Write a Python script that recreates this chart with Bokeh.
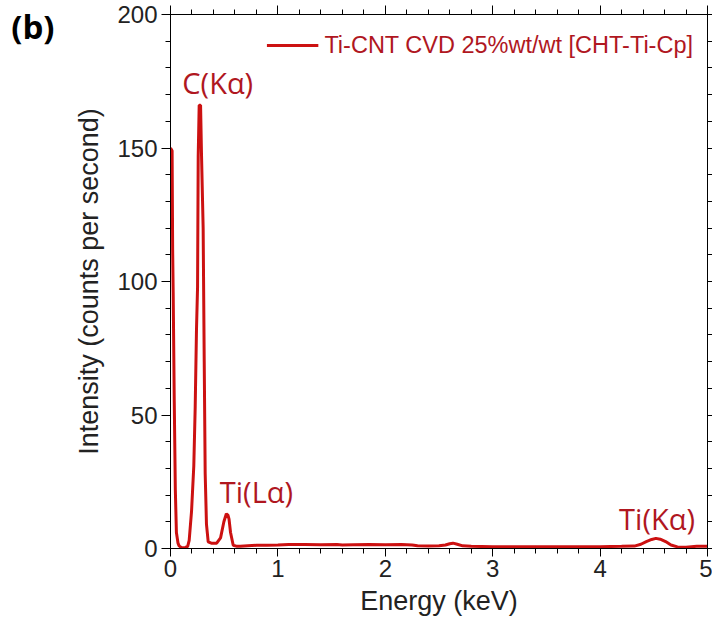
from bokeh.plotting import figure
from bokeh.models import Range1d, LinearAxis, Label, Legend, LegendItem, FixedTicker, CustomJSTickFormatter
from bokeh.embed import file_html
from bokeh.resources import INLINE

# Spectrum (keV, counts per second)
energy_kev = [0.00, 0.015, 0.02, 0.025, 0.035, 0.045, 0.055, 0.07, 0.08, 0.10, 0.12, 0.14, 0.16,
              0.174, 0.196, 0.217, 0.23, 0.242, 0.252, 0.258, 0.267, 0.28, 0.289, 0.304, 0.314,
              0.323, 0.335, 0.351, 0.38, 0.43, 0.466, 0.497, 0.52, 0.535, 0.545, 0.559, 0.584,
              0.62, 0.65, 0.72, 0.80, 0.90, 1.00, 1.10, 1.25, 1.40, 1.55, 1.60, 1.70, 1.85,
              2.00, 2.15, 2.25, 2.30, 2.40, 2.50, 2.56, 2.60, 2.63, 2.67, 2.72, 2.80, 3.00,
              3.20, 3.40, 3.60, 3.80, 4.00, 4.20, 4.32, 4.38, 4.43, 4.48, 4.52, 4.56, 4.61,
              4.66, 4.72, 4.80, 4.90, 5.00]
counts_cps = [150, 149, 112, 96, 55, 22, 6, 2, 1, 0.4, 0.3, 0.4, 0.8,
              3, 14, 31, 53, 82, 98, 147, 166, 166, 147, 120, 70,
              28, 9, 2.5, 2, 2, 4, 10, 13, 12.5, 11, 6, 1.2,
              0.8, 0.8, 1.0, 1.2, 1.2, 1.3, 1.5, 1.5, 1.4, 1.5, 1.3, 1.4, 1.5,
              1.4, 1.5, 1.3, 1.0, 0.9, 1.0, 1.3, 1.8, 2.0, 1.6, 1.0, 0.8, 0.7,
              0.7, 0.7, 0.7, 0.7, 0.7, 0.8, 0.9, 1.6, 2.6, 3.4, 3.8, 3.5, 2.6,
              1.3, 0.6, 0.5, 0.8, 0.8]

series_name = "Ti-CNT CVD 25%wt/wt [CHT-Ti-Cp]"
panel_tag = "(b)"
peak_labels = ["C(Kα)", "Ti(Lα)", "Ti(Kα)"]
peak_label_x = [0.44, 0.80, 4.53]
peak_label_y = [174.5, 21.5, 11.2]

x_ticks = [0, 1, 2, 3, 4, 5]
y_ticks = [0, 50, 100, 150, 200]
x_minor = [i * 0.2 for i in range(26)]
y_minor = list(range(0, 201, 10))

LINE = "#cc1111"
TXT = "#b0171f"
AX = "#222222"

p = figure(width=712, height=624, output_backend="svg", toolbar_location=None,
           x_range=Range1d(0, 5), y_range=Range1d(0, 200),
           frame_width=537, frame_height=534,
           min_border_left=170, min_border_right=5, min_border_top=14, min_border_bottom=76)
p.background_fill_color = "white"
p.border_fill_color = "white"
p.outline_line_color = "black"
p.outline_line_width = 1
p.grid.visible = False

r = p.line(energy_kev, counts_cps, line_color=LINE, line_width=3)

# bottom axis
xa = p.xaxis[0]
xa.ticker = FixedTicker(ticks=x_ticks, minor_ticks=x_minor)
xa.axis_label = "Energy (keV)"
xa.axis_label_text_font = "Liberation Sans"
xa.axis_label_text_font_style = "normal"
xa.axis_label_text_font_size = "27px"
xa.axis_label_text_color = AX
xa.axis_label_standoff = 6
xa.major_label_text_font = "Liberation Sans"
xa.major_label_text_font_size = "24px"
xa.major_label_text_color = AX
xa.major_label_standoff = 3
xa.major_tick_out = 8
xa.major_tick_in = 0
xa.minor_tick_out = 5
xa.minor_tick_in = 0
xa.axis_line_color = "black"

ya = p.yaxis[0]
ya.ticker = FixedTicker(ticks=y_ticks, minor_ticks=y_minor)
ya.axis_label = "Intensity (counts per second)"
ya.axis_label_text_font = "Liberation Sans"
ya.axis_label_text_font_style = "normal"
ya.axis_label_text_font_size = "27px"
ya.axis_label_text_color = AX
ya.axis_label_standoff = 10
ya.major_label_text_font = "Liberation Sans"
ya.major_label_text_font_size = "24px"
ya.major_label_text_color = AX
ya.major_label_standoff = 4
ya.major_tick_out = 9
ya.major_tick_in = 0
ya.minor_tick_out = 5
ya.minor_tick_in = 0

# panel tag "(b)" drawn as the only label of an outer, line-less left axis
tag_axis = LinearAxis(ticker=FixedTicker(ticks=[195.5], minor_ticks=[]),
                      major_label_overrides={195.5: panel_tag},
                      major_tick_in=0, major_tick_out=0, minor_tick_in=0, minor_tick_out=0,
                      axis_line_color=None, major_label_standoff=17,
                      major_label_text_font="Open Sans", major_label_text_font_style="bold",
                      major_label_text_font_size="33px", major_label_text_color="black")
p.add_layout(tag_axis, "left")

blank = CustomJSTickFormatter(code="return ''")
ra = LinearAxis(ticker=FixedTicker(ticks=y_ticks, minor_ticks=y_minor),
                formatter=blank, major_tick_in=0, major_tick_out=5, minor_tick_in=0, minor_tick_out=5,
                major_label_standoff=0, major_label_text_font_size="0px")
p.add_layout(ra, "right")
ta = LinearAxis(ticker=FixedTicker(ticks=x_ticks, minor_ticks=x_minor),
                formatter=blank, major_tick_in=0, major_tick_out=9, minor_tick_in=0, minor_tick_out=5,
                major_label_standoff=0, major_label_text_font_size="0px")
p.add_layout(ta, "above")

for t, x, y in zip(peak_labels, peak_label_x, peak_label_y):
    p.add_layout(Label(x=x, y=y, text=t, text_align="center", text_baseline="middle",
                       text_font="Open Sans", text_font_size="29px", text_color=TXT))

legend = Legend(items=[LegendItem(label=series_name, renderers=[r])], location="top_right",
                label_text_font="Liberation Sans", label_text_font_size="23.5px",
                label_text_color=TXT, glyph_width=52, label_standoff=6, label_height=34,
                glyph_height=34,
                border_line_color=None, background_fill_alpha=0, margin=14, padding=0)
p.add_layout(legend)

open("out.html", "w").write(file_html(p, INLINE))
